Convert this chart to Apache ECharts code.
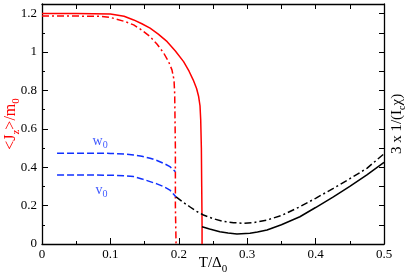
<!DOCTYPE html>
<html>
<head>
<meta charset="utf-8">
<script src="https://cdn.jsdelivr.net/npm/echarts@6/dist/echarts.min.js"></script>
<style>html,body{margin:0;padding:0;background:#fff;}#c{width:411px;height:280px;}</style>
</head>
<body>
<div id="c"></div>
<script>
// J_z/m0 solid (red)
const jzSolid = [[0,1.2],[0.05,1.2],[0.1,1.198],[0.12,1.186],[0.134,1.167],[0.146,1.147],[0.158,1.124],[0.17,1.093],[0.183,1.054],[0.195,1.005],[0.207,0.95],[0.215,0.9],[0.221,0.855],[0.226,0.81],[0.229,0.768],[0.231,0.72],[0.232,0.65],[0.233,0.5],[0.2335,0.3],[0.234,0.1],[0.234,0]];
// J_z/m0 dash-dot (red)
const jzDashDot = [[0,1.187],[0.05,1.187],[0.085,1.186],[0.1,1.18],[0.109,1.171],[0.122,1.158],[0.134,1.141],[0.146,1.114],[0.158,1.08],[0.168,1.042],[0.178,0.994],[0.185,0.95],[0.19,0.907],[0.193,0.855],[0.194,0.78],[0.195,0.5],[0.195,0.2],[0.196,0]];
// w0 (blue dashed)
const w0 = [[0.022,0.473],[0.06,0.473],[0.1,0.472],[0.12,0.469],[0.134,0.464],[0.146,0.457],[0.158,0.447],[0.168,0.435],[0.178,0.42],[0.187,0.403],[0.195,0.377]];
// v0 (blue dashed)
const v0 = [[0.022,0.36],[0.06,0.36],[0.1,0.358],[0.12,0.356],[0.134,0.351],[0.146,0.339],[0.158,0.325],[0.168,0.313],[0.178,0.299],[0.187,0.281],[0.196,0.245]];
// 3 x 1/(Ic chi) dash-dot (black)
const chiDashDot = [[0.196,0.245],[0.206,0.218],[0.216,0.194],[0.226,0.17],[0.236,0.151],[0.25,0.132],[0.265,0.118],[0.28,0.111],[0.294,0.108],[0.31,0.112],[0.329,0.125],[0.35,0.148],[0.377,0.194],[0.4,0.238],[0.426,0.29],[0.45,0.34],[0.475,0.394],[0.5,0.47]];
// 3 x 1/(Ic chi) solid (black)
const chiSolid = [[0.234,0.09],[0.245,0.078],[0.26,0.064],[0.272,0.057],[0.285,0.052],[0.304,0.056],[0.315,0.062],[0.329,0.073],[0.35,0.1],[0.377,0.142],[0.4,0.19],[0.426,0.246],[0.45,0.3],[0.475,0.36],[0.5,0.425]];
// curve labels
const curveLabels = [{name:'w', value:[0.085,0.535]},{name:'v', value:[0.087,0.28]}];
const xTicks = ['0','0.1','0.2','0.3','0.4','0.5'];
const yTicks = ['0','0.2','0.4','0.6','0.8','1','1.2'];

const serif = "'Liberation Serif', 'DejaVu Serif', serif";
const chart = echarts.init(document.getElementById('c'));
const tickCol = '#000';
chart.setOption({
  animation:false,
  backgroundColor:'#fff',
  grid:{left:42,right:27,top:4,bottom:36,containLabel:false,outerBoundsMode:'none'},
  xAxis:[{
    type:'value',min:0,max:0.5,interval:0.1,position:'bottom',
    axisLine:{show:true,onZero:false,lineStyle:{color:'#000',width:1.3}},
    axisTick:{show:true,inside:true,length:6,lineStyle:{color:tickCol,width:1}},
    minorTick:{show:true,splitNumber:2,length:3,lineStyle:{color:tickCol,width:1}},
    splitLine:{show:false},
    axisLabel:{fontFamily:serif,fontSize:13,color:'#000',margin:4,formatter:(v)=>xTicks[Math.round(v*10)]},
    name:'{m|T/Δ}{s|0}',nameLocation:'middle',nameGap:8,nameMoveOverlap:false,
    nameTextStyle:{rich:{m:{fontFamily:serif,fontSize:15,color:'#000'},s:{fontFamily:serif,fontSize:11,color:'#000',padding:[12,0,0,0]}}}
  },{
    type:'value',min:0,max:0.5,interval:0.05,position:'top',
    axisLine:{show:true,onZero:false,lineStyle:{color:'#000',width:1.3}},
    axisTick:{show:true,inside:true,length:5,lineStyle:{color:tickCol,width:1}},
    axisLabel:{show:false},splitLine:{show:false}
  }],
  yAxis:[{
    type:'value',min:0,max:1.25,interval:0.2,position:'left',
    axisLine:{show:true,onZero:false,lineStyle:{color:'#000',width:1.3}},
    axisTick:{show:true,inside:true,length:6,lineStyle:{color:tickCol,width:1}},
    minorTick:{show:true,splitNumber:2,length:3,lineStyle:{color:tickCol,width:1}},
    splitLine:{show:false},
    axisLabel:{fontFamily:serif,fontSize:13,color:'#000',margin:5,showMaxLabel:false,formatter:(v)=>yTicks[Math.round(v*5)]},
    name:'{m|<J}{s|z}{m|>/m}{s|0}',nameLocation:'middle',nameRotate:90,nameGap:20,nameMoveOverlap:false,
    nameTextStyle:{rich:{m:{fontFamily:serif,fontSize:16,color:'#ff0000'},s:{fontFamily:serif,fontSize:11,color:'#ff0000',padding:[12,0,0,0]}}}
  },{
    type:'value',min:0,max:1.25,interval:0.1,position:'right',
    axisLine:{show:true,onZero:false,lineStyle:{color:'#000',width:1.3}},
    axisTick:{show:true,inside:true,length:5,lineStyle:{color:tickCol,width:1}},
    axisLabel:{show:false},splitLine:{show:false},
    name:'{m|3 x 1/(I}{s|c}{m|χ)}',nameLocation:'middle',nameRotate:90,nameGap:3,nameMoveOverlap:false,
    nameTextStyle:{rich:{m:{fontFamily:serif,fontSize:15,color:'#000'},s:{fontFamily:serif,fontSize:10,color:'#000',padding:[10,0,0,0]}}}
  }],
  series:[
    {type:'line',data:jzSolid,showSymbol:false,smooth:false,lineStyle:{color:'#ff0000',width:1.5}},
    {type:'line',data:jzDashDot,showSymbol:false,lineStyle:{color:'#ff0000',width:1.5,type:[7,3,2,3]}},
    {type:'line',data:w0,showSymbol:false,lineStyle:{color:'#1030ff',width:1.5,type:[7,3]}},
    {type:'line',data:v0,showSymbol:false,lineStyle:{color:'#1030ff',width:1.5,type:[7,3]}},
    {type:'line',data:chiDashDot,showSymbol:false,lineStyle:{color:'#000',width:1.5,type:[7,3,2,3]}},
    {type:'line',data:chiSolid,showSymbol:false,lineStyle:{color:'#000',width:1.5}},
    {type:'scatter',data:curveLabels,symbolSize:0,
     label:{show:true,position:'inside',formatter:(p)=>'{m|'+p.name+'}{s|0}',
       rich:{m:{fontFamily:serif,fontSize:14,color:'#1030ff'},s:{fontFamily:serif,fontSize:10,color:'#1030ff',padding:[9,0,0,0]}}}}
  ]
});
</script>
</body>
</html>
